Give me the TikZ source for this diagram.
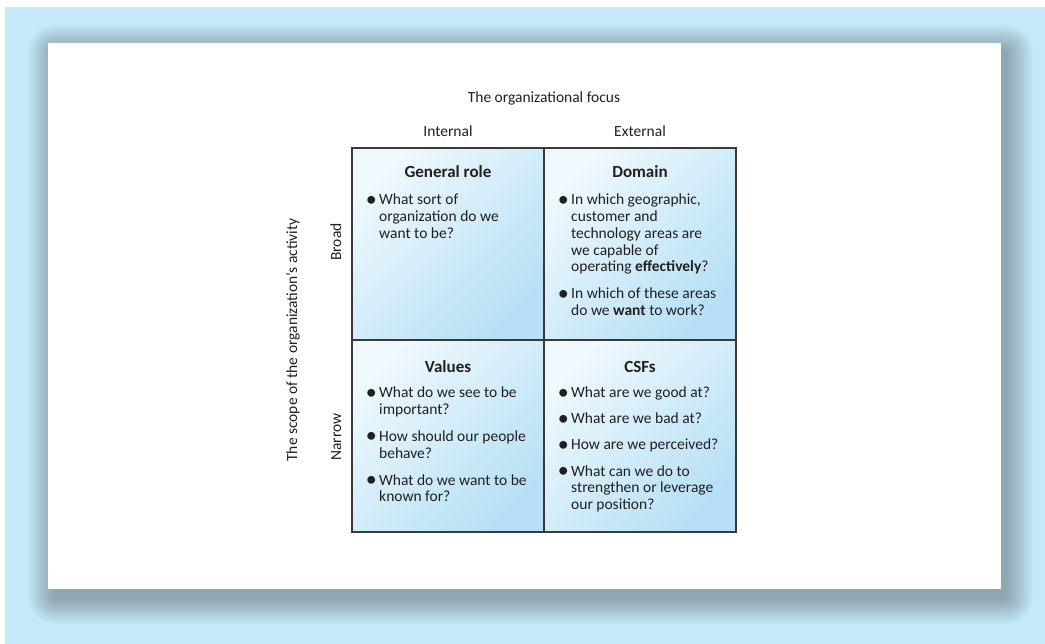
\documentclass[tikz,border=0pt]{standalone}
\usepackage{fontspec}
\setmainfont{Carlito}
\definecolor{bgblue}{HTML}{C5E9F8}
\definecolor{cellA}{HTML}{EEF8FD}
\definecolor{cellB}{HTML}{B6E0F5}
\definecolor{gridc}{HTML}{3A3A3A}
\definecolor{txt}{HTML}{231F20}
\newcommand{\bul}{\makebox[13pt][l]{\hspace{-0.3pt}\raisebox{-1.6pt}{\fontsize{22}{16.7}\selectfont•}}}
\newcommand{\ind}{\hspace*{13pt}}
\tikzset{
  cellbox/.style={draw=gridc, line width=1.3pt, top color=cellA, bottom color=cellB, shading angle=45, minimum width=192pt, minimum height=192pt, inner sep=0pt},
  body/.style={font=\fontsize{15.5}{16.7}\selectfont, text=txt, inner sep=0pt, anchor=base west},
  head/.style={font=\bfseries\fontsize{17}{18}\selectfont, text=txt, inner sep=0pt, anchor=base},
  lab/.style={font=\fontsize{15.5}{16.7}\selectfont, text=txt, inner sep=0pt, anchor=base},
}
\begin{document}
\begin{tikzpicture}[x=1pt,y=-1pt]
\useasboundingbox (0,0) rectangle (1045,644);
\fill[white] (0,0) rectangle (1045,644);
\fill[bgblue] (5,7) rectangle (1045,644);
% shadow
\foreach \i in {1,...,18}{
  \pgfmathsetmacro{\e}{1.5*\i}
  \fill[black, opacity=0.017, rounded corners=\e pt] (55-\e,52-\e) rectangle (1006+\e,597+\e);
}
\fill[white] (48,43) rectangle (1001,589);

% cells
\node[cellbox] (gr) at (448,244) {};
\node[cellbox] (dm) at (640,244) {};
\node[cellbox] (vl) at (448,436) {};
\node[cellbox] (cs) at (640,436) {};

% axis labels
\node[lab] (focus) at (544,103) {The organizational focus};
\node[lab] (int) at (448,137) {Internal};
\node[lab] (ext) at (640,137) {External};
\node[lab, rotate=90] (scope) at (297,340) {The scope of the organization’s activity};
\node[lab, rotate=90] (broad) at (341,242) {Broad};
\node[lab, rotate=90] (narrow) at (341,437) {Narrow};

% titles
\node[head] (grt) at (448,178) {General role};
\node[head] (dmt) at (640,178) {Domain};
\node[head] (vlt) at (448,372.5) {Values};
\node[head] (cst) at (640,372.5) {CSFs};

% bodies
\node[body] (grb) at (366,205) {\begin{tabular}[t]{@{}l@{}}
\bul What sort of\\
\ind organization do we\\
\ind want to be?
\end{tabular}};
\node[body] (dmb) at (558,205) {\begin{tabular}[t]{@{}l@{}}
\bul In which geographic,\\
\ind customer and\\
\ind technology areas are\\
\ind we capable of\\
\ind operating \textbf{effectively}?\\[10.5pt]
\bul In which of these areas\\
\ind do we \textbf{want} to work?
\end{tabular}};
\node[body] (vlb) at (366,397.5) {\begin{tabular}[t]{@{}l@{}}
\bul What do we see to be\\
\ind important?\\[10.5pt]
\bul How should our people\\
\ind behave?\\[10.5pt]
\bul What do we want to be\\
\ind known for?
\end{tabular}};
\node[body] (csb) at (558,397.5) {\begin{tabular}[t]{@{}l@{}}
\bul What are we good at?\\[9.5pt]
\bul What are we bad at?\\[9.5pt]
\bul How are we perceived?\\[9.5pt]
\bul What can we do to\\
\ind strengthen or leverage\\
\ind our position?
\end{tabular}};
\end{tikzpicture}
\end{document}
